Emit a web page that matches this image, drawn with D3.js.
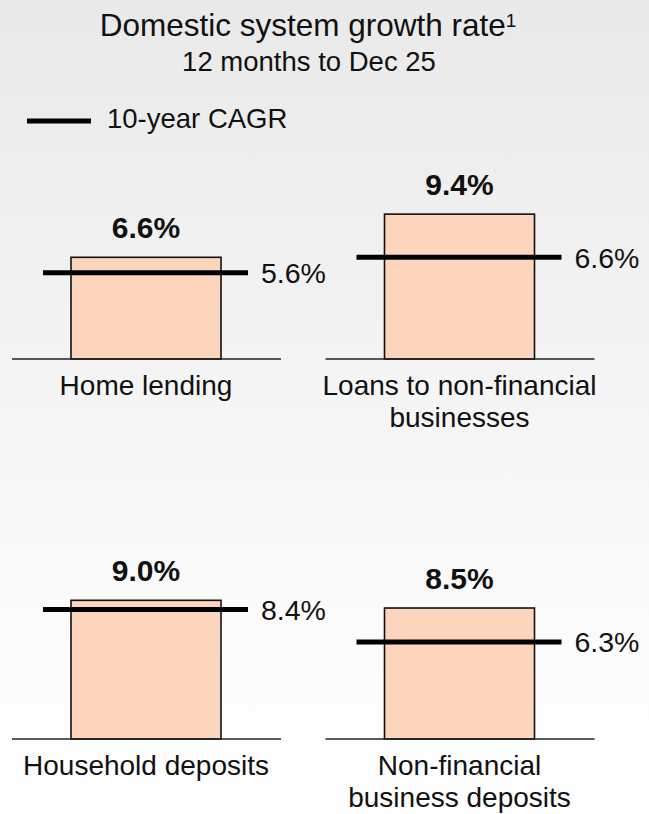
<!DOCTYPE html>
<html>
<head>
<meta charset="utf-8">
<script src="https://cdn.jsdelivr.net/npm/d3@7"></script>
<style>
  html, body { margin: 0; padding: 0; }
  body { width: 649px; height: 814px; overflow: hidden; }
  svg text { font-family: "Liberation Sans", Arial, Helvetica, sans-serif; fill: #111; }
</style>
</head>
<body>
<div id="chart"></div>
<script>
// chart data
const categories = [
  ["Home lending"],
  ["Loans to non-financial", "businesses"],
  ["Household deposits"],
  ["Non-financial", "business deposits"]
];
const growth = [6.6, 9.4, 9.0, 8.5];   // 12 months to Dec 25
const cagr = [5.6, 6.6, 8.4, 6.3];     // 10-year CAGR
const titleText = "Domestic system growth rate";
const subtitleText = "12 months to Dec 25";
const legendText = "10-year CAGR";

const width = 649, height = 814;
const barWidth = 150;

const svg = d3.select("#chart")
  .append("svg")
  .attr("width", width)
  .attr("height", height);

// soft grey background fading to white
const grad = svg.append("defs").append("linearGradient")
  .attr("id", "bg")
  .attr("x1", 0).attr("y1", 0).attr("x2", 0).attr("y2", 1);
grad.append("stop").attr("offset", "0%").attr("stop-color", "#e9e9e9");
grad.append("stop").attr("offset", "45%").attr("stop-color", "#f4f4f4");
grad.append("stop").attr("offset", "80%").attr("stop-color", "#fcfcfc");
grad.append("stop").attr("offset", "100%").attr("stop-color", "#fefefe");

svg.append("rect")
  .attr("width", width)
  .attr("height", height)
  .attr("fill", "url(#bg)");

// title
const title = svg.append("text")
  .attr("x", 308)
  .attr("y", 36)
  .attr("text-anchor", "middle")
  .style("font-size", "31.5px");
title.append("tspan").text(titleText);
title.append("tspan")
  .attr("dy", -9)
  .style("font-size", "19px")
  .text("1");

svg.append("text")
  .attr("x", 309)
  .attr("y", 71)
  .attr("text-anchor", "middle")
  .style("font-size", "27.5px")
  .text(subtitleText);

// legend
svg.append("line")
  .attr("x1", 27).attr("x2", 91)
  .attr("y1", 121).attr("y2", 121)
  .attr("stroke", "#000")
  .attr("stroke-width", 5);

svg.append("text")
  .attr("x", 107)
  .attr("y", 128)
  .style("font-size", "27.5px")
  .text(legendText);

// panel scales: columns and rows of the 2x2 grid
const col = d3.scalePoint().domain([0, 1]).range([146, 459.5]);
const row = d3.scalePoint().domain([0, 1]).range([359, 739]);
// bar height per percentage point (shared by every panel)
const h = d3.scaleLinear().domain([0, 10]).range([0, 154.1]);

const panels = growth.map((g, i) => ({
  value: g,
  cagr: cagr[i],
  label: categories[i],
  cx: col(i % 2),
  base: row(Math.floor(i / 2))
}));

const panel = svg.selectAll(".panel")
  .data(panels)
  .enter().append("g")
  .attr("class", "panel")
  .attr("transform", d => "translate(" + d.cx + "," + d.base + ")");

// bars
panel.append("rect")
  .attr("x", -barWidth / 2)
  .attr("y", d => -h(d.value))
  .attr("width", barWidth)
  .attr("height", d => h(d.value))
  .attr("fill", "#fdd5bd")
  .attr("stroke", "#111")
  .attr("stroke-width", 1.6);

// baseline
panel.append("line")
  .attr("x1", -134).attr("x2", 135)
  .attr("y1", 0).attr("y2", 0)
  .attr("stroke", "#222")
  .attr("stroke-width", 1.5);

// 10-year CAGR marker
panel.append("line")
  .attr("x1", -103).attr("x2", 102)
  .attr("y1", d => -h(d.cagr))
  .attr("y2", d => -h(d.cagr))
  .attr("stroke", "#000")
  .attr("stroke-width", 5);

panel.append("text")
  .attr("x", 115)
  .attr("y", d => -h(d.cagr))
  .attr("dy", "0.36em")
  .style("font-size", "28.5px")
  .text(d => d.cagr.toFixed(1) + "%");

// growth value above bar
panel.append("text")
  .attr("x", 0)
  .attr("y", d => -h(d.value) - 19)
  .attr("text-anchor", "middle")
  .style("font-size", "30px")
  .style("font-weight", "bold")
  .text(d => d.value.toFixed(1) + "%");

// category labels
panel.append("text")
  .attr("text-anchor", "middle")
  .style("font-size", "28px")
  .selectAll("tspan")
  .data(d => d.label)
  .enter().append("tspan")
  .attr("x", 0)
  .attr("y", (d, i) => 36 + i * 32)
  .text(d => d);
</script>
</body>
</html>
